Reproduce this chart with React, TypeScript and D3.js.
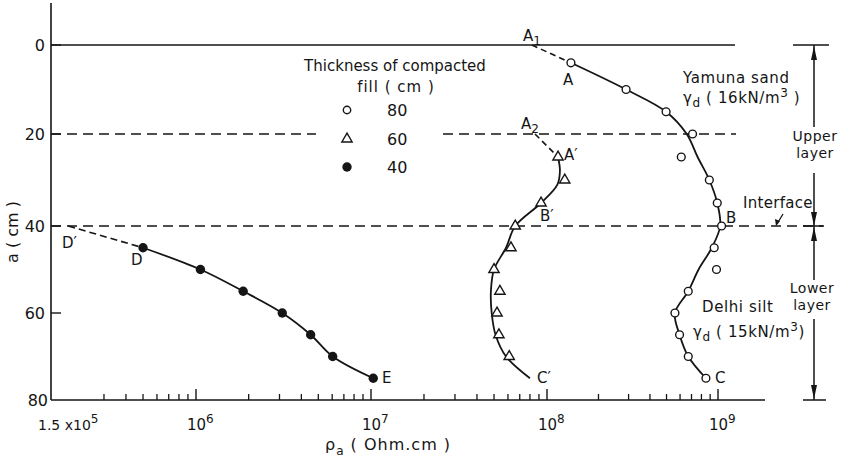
import React from "react";
import * as d3 from "d3";

const W = 844;
const H = 462;

// depth a (cm) and resistivity axis
const depthTicks = [0, 20, 40, 60];
const decadeTicks = [1e6, 1e7, 1e8, 1e9];
const decadeExp = ["6", "7", "8", "9"];

// 80 cm fill, open circles
const depth80 = [4, 10, 15, 20, 25, 30, 35, 40, 45, 50, 55, 60, 65, 70, 75];
const rho80 = [1.38e8, 2.9e8, 4.97e8, 7.1e8, 6.1e8, 8.9e8, 9.9e8, 1.05e9, 9.5e8, 9.8e8, 6.7e8, 5.6e8, 5.96e8, 6.7e8, 8.5e8];
const fitDepth80 = [4, 10, 15, 20, 25, 30, 35, 40, 45, 50, 55, 60, 65, 70, 75];
const fitRho80 = [1.38e8, 2.9e8, 4.97e8, 6.56e8, 7.6e8, 8.9e8, 9.9e8, 1.03e9, 9.2e8, 7.7e8, 6.7e8, 5.6e8, 5.96e8, 6.7e8, 8.5e8];
const extDepth80 = [0, 4];
const extRho80 = [8.2e7, 1.38e8];

// 60 cm fill, triangles
const depth60 = [25, 30, 35, 40, 45, 50, 55, 60, 65, 70];
const rho60 = [1.16e8, 1.27e8, 9.25e7, 6.6e7, 6.24e7, 5.0e7, 5.4e7, 5.2e7, 5.33e7, 6.1e7];
const fitDepth60 = [25, 28, 31, 35, 40, 45, 50, 55, 60, 65, 70, 75];
const fitRho60 = [1.16e8, 1.19e8, 1.15e8, 9.25e7, 6.6e7, 5.85e7, 5.0e7, 4.8e7, 4.85e7, 5.1e7, 5.85e7, 8.0e7];
const extDepth60 = [20, 25];
const extRho60 = [8.55e7, 1.16e8];

// 40 cm fill, filled circles
const depth40 = [45, 50, 55, 60, 65, 70, 75];
const rho40 = [5.0e5, 1.06e6, 1.86e6, 3.11e6, 4.52e6, 6.04e6, 1.03e7];
const extDepth40 = [40, 45];
const extRho40 = [1.88e5, 5.0e5];

const legendValues = ["80", "60", "40"];

const FONT = "DejaVu Sans";
const INK = "#151515";

const zip = (r: number[], d: number[]) => r.map((v, i) => [v, d[i]] as [number, number]);

export default function App() {
  const x = d3.scaleLog().domain([1.5e5, 1e6, 1e7, 1e8, 1e9, 1.9e9]).range([51, 196, 371, 547, 718, 765]);
  const y = d3.scaleLinear().domain([0, 20, 40, 60, 80]).range([45, 134, 226, 313, 400]);

  const smooth = d3.line<[number, number]>()
    .x(d => x(d[0]))
    .y(d => y(d[1]))
    .curve(d3.curveCatmullRom.alpha(0.5));
  const straight = d3.line<[number, number]>().x(d => x(d[0])).y(d => y(d[1]));

  // minor ticks; the first decade starts at 3e5 in the original
  const minor: number[] = [];
  for (let e = 5; e <= 8; e++) {
    for (let m = 2; m <= 9; m++) {
      const v = m * Math.pow(10, e);
      if (v > 2e5 && v < 1e9) minor.push(v);
    }
  }

  const tri = d3.symbol().type(d3.symbolTriangle).size(46)() as string;
  const y0 = y(80);
  const dimX = 814;

  const arrow = (tip: number, dir: number) =>
    `M${dimX},${tip} L${dimX - 3},${tip - dir * 14} L${dimX + 3},${tip - dir * 14} Z`;

  const legendY = [110, 139, 167];

  return (
    <svg width={W} height={H} style={{ position: "absolute", left: 0, top: 0, background: "#fff" }}
      fontFamily={FONT} fill={INK}>
      {/* axes */}
      <line x1={x(1.5e5)} x2={x(1.5e5)} y1={3} y2={y0} stroke={INK} strokeWidth={1.6} />
      <line x1={x(1.5e5)} x2={765} y1={y0} y2={y0} stroke={INK} strokeWidth={1.6} />
      {minor.map(v => (
        <line key={v} x1={x(v)} x2={x(v)} y1={y0} y2={y0 - 6} stroke={INK} strokeWidth={1.3} />
      ))}
      {decadeTicks.map(v => (
        <line key={v} x1={x(v)} x2={x(v)} y1={y0} y2={y0 - 11} stroke={INK} strokeWidth={1.4} />
      ))}
      {depthTicks.map(d => (
        <g key={d}>
          <line x1={x(1.5e5)} x2={x(1.5e5) + 10} y1={y(d)} y2={y(d)} stroke={INK} strokeWidth={1.4} />
          <text x={45} y={y(d) + 6} fontSize={16} textAnchor="end">{d}</text>
        </g>
      ))}
      <text x={48} y={y(80) + 6} fontSize={16} textAnchor="end">80</text>

      <text x={38} y={430} fontSize={14}>1.5 x10<tspan dy={-7} fontSize={12}>5</tspan></text>
      {decadeTicks.map((v, i) => (
        <text key={v} x={x(v) - 9} y={430} fontSize={15}>10<tspan dy={-7} fontSize={12}>{decadeExp[i]}</tspan></text>
      ))}
      <text x={325} y={450} fontSize={16} letterSpacing={1}>ρ<tspan dy={5} fontSize={12}>a</tspan><tspan dy={-5} fontSize={16}> ( Ohm.cm )</tspan></text>
      <text transform="translate(18,232) rotate(-90)" fontSize={16} textAnchor="middle">a ( cm )</text>

      {/* reference lines */}
      <line x1={x(1.5e5)} x2={735} y1={y(0)} y2={y(0)} stroke={INK} strokeWidth={1.5} />
      <line x1={x(1.5e5)} x2={316} y1={y(20)} y2={y(20)} stroke={INK} strokeWidth={1.5} strokeDasharray="10 6" />
      <line x1={443} x2={736} y1={y(20)} y2={y(20)} stroke={INK} strokeWidth={1.5} strokeDasharray="10 6" />
      <line x1={x(1.5e5)} x2={823} y1={y(40)} y2={y(40)} stroke={INK} strokeWidth={1.5} strokeDasharray="10 6" />

      {/* curves */}
      <path d={smooth(zip(fitRho80, fitDepth80)) || ""} fill="none" stroke={INK} strokeWidth={1.8} />
      <path d={straight(zip(extRho80, extDepth80)) || ""} fill="none" stroke={INK} strokeWidth={1.6} strokeDasharray="6 4" />
      <path d={smooth(zip(fitRho60, fitDepth60)) || ""} fill="none" stroke={INK} strokeWidth={1.8} />
      <path d={straight(zip(extRho60, extDepth60)) || ""} fill="none" stroke={INK} strokeWidth={1.6} strokeDasharray="6 4" />
      <path d={smooth(zip(rho40, depth40)) || ""} fill="none" stroke={INK} strokeWidth={1.8} />
      <path d={straight(zip(extRho40, extDepth40)) || ""} fill="none" stroke={INK} strokeWidth={1.6} strokeDasharray="7 4" />

      {/* markers */}
      {rho80.map((v, i) => (
        <circle key={i} cx={x(v)} cy={y(depth80[i])} r={3.9} fill="#fff" stroke={INK} strokeWidth={1.4} />
      ))}
      {rho60.map((v, i) => (
        <path key={i} d={tri} transform={`translate(${x(v)},${y(depth60[i])})`} fill="#fff" stroke={INK} strokeWidth={1.4} />
      ))}
      {rho40.map((v, i) => (
        <circle key={i} cx={x(v)} cy={y(depth40[i])} r={4.7} fill={INK} />
      ))}

      {/* point labels */}
      <g fontSize={15}>
        <text x={523} y={41}>A<tspan dy={4} fontSize={12}>1</tspan></text>
        <text x={563} y={85}>A</text>
        <text x={521} y={129}>A<tspan dy={4} fontSize={12}>2</tspan></text>
        <text x={564} y={160}>A′</text>
        <text x={540} y={221}>B′</text>
        <text x={726} y={223}>B</text>
        <text x={715} y={383}>C</text>
        <text x={537} y={383}>C′</text>
        <text x={131} y={265}>D</text>
        <text x={62} y={248}>D′</text>
        <text x={382} y={383}>E</text>
      </g>

      {/* legend */}
      <g fontSize={15} textAnchor="middle">
        <text x={395} y={71}>Thickness of compacted</text>
        <text x={396} y={92} letterSpacing={1}>fill ( cm )</text>
      </g>
      <circle cx={347} cy={legendY[0]} r={3.7} fill="#fff" stroke={INK} strokeWidth={1.4} />
      <path d={tri} transform={`translate(347,${legendY[1]})`} fill="#fff" stroke={INK} strokeWidth={1.4} />
      <circle cx={347} cy={legendY[2]} r={4.7} fill={INK} />
      {legendValues.map((t, i) => (
        <text key={t} x={387} y={legendY[i] + 6} fontSize={16}>{t}</text>
      ))}

      {/* soil annotations */}
      <g fontSize={15} letterSpacing={0.6}>
        <text x={683} y={83}>Yamuna sand</text>
        <text x={683} y={103}>γ<tspan dy={4} fontSize={12}>d</tspan><tspan dy={-4}> ( 16kN/m</tspan><tspan dy={-6} fontSize={12}>3</tspan><tspan dy={6}> )</tspan></text>
        <text x={702} y={312}>Delhi silt</text>
        <text x={693} y={337}>γ<tspan dy={4} fontSize={12}>d</tspan><tspan dy={-4}> ( 15kN/m</tspan><tspan dy={-6} fontSize={12}>3</tspan><tspan dy={6}>)</tspan></text>
        <text x={743} y={208} letterSpacing={0.3}>Interface</text>
      </g>
      <line x1={783} y1={214} x2={777} y2={224} stroke={INK} strokeWidth={1.3} />
      <path d="M776,226 L775,219 L780,221 Z" fill={INK} />

      {/* layer dimension */}
      <g stroke={INK} strokeWidth={1.5}>
        <line x1={793} x2={829} y1={y(0)} y2={y(0)} />
        <line x1={803} x2={824} y1={y(40)} y2={y(40)} />
        <line x1={803} x2={826} y1={y(80)} y2={y(80)} />
        <line x1={dimX} x2={dimX} y1={y(0)} y2={127} />
        <line x1={dimX} x2={dimX} y1={173} y2={y(40)} />
        <line x1={dimX} x2={dimX} y1={y(40)} y2={280} />
        <line x1={dimX} x2={dimX} y1={319} y2={y(80)} />
      </g>
      <path d={arrow(y(0) + 1, -1)} fill={INK} />
      <path d={arrow(y(40), 1)} fill={INK} />
      <path d={arrow(y(40) + 1, -1)} fill={INK} />
      <path d={arrow(y(80) - 1, 1)} fill={INK} />
      <g fontSize={14} textAnchor="middle" letterSpacing={0.5}>
        <text x={815} y={141}>Upper</text>
        <text x={815} y={158}>layer</text>
        <text x={812} y={293}>Lower</text>
        <text x={812} y={310}>layer</text>
      </g>
    </svg>
  );
}
